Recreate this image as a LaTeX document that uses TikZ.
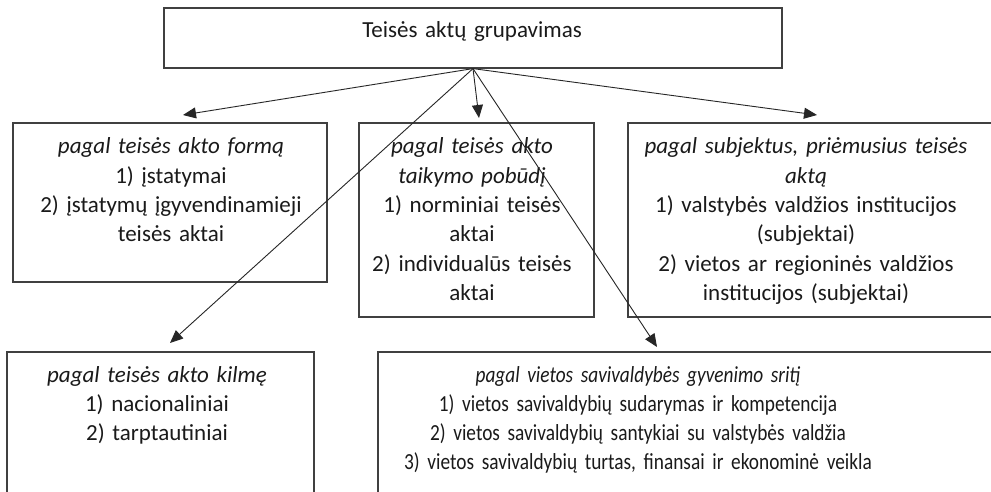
\documentclass[tikz,border=0pt]{standalone}
\usepackage{fontspec}
\setmainfont{Carlito}
\newfontfamily\narrowfont[FakeStretch=0.84]{Carlito}
\usepackage{xcolor}
\definecolor{edge}{HTML}{404040}
\definecolor{ink}{HTML}{1A1A1A}
\usetikzlibrary{arrows.meta,positioning}
\tikzset{
  frame/.style = {rectangle, draw=edge, line width=1.2pt, inner sep=0pt},
  txt/.style   = {anchor=base, align=center, text=ink, inner sep=0pt,
                  text width=600pt, font=\fontsize{23}{29.3}\selectfont},
  arr/.style   = {-{Triangle[length=13pt,width=11pt]}, line width=0.9pt, draw=black!85}
}

\begin{document}
\begin{tikzpicture}[x=1pt,y=-1pt]
  \clip (0,0) rectangle (991,492);
  \fill[white] (0,0) rectangle (991,492);
  % boxes
  \node[frame, minimum width=618pt, minimum height=60pt]  (grp)    at (473,38)    {};
  \node[frame, minimum width=314pt, minimum height=159pt] (forma)  at (170,202.5) {};
  \node[frame, minimum width=235pt, minimum height=194pt] (pobud)  at (476.5,220) {};
  \node[frame, minimum width=372pt, minimum height=194pt] (subj)   at (814,220)   {};
  \node[frame, minimum width=307pt, minimum height=158pt] (kilme)  at (160.5,431) {};
  \node[frame, minimum width=622pt, minimum height=158pt] (sritis) at (689,431)   {};
  % texts
  \node[txt] (grpt) at (472,38) {Teisės aktų grupavimas};
  \node[txt] (format) at (171,154) {\textit{pagal teisės akto formą}\\1) įstatymai\\2) įstatymų įgyvendinamieji\\teisės aktai};
  \node[txt] (pobudt) at (472,154) {\textit{pagal teisės akto}\\\textit{taikymo pobūdį}\\1) norminiai teisės\\aktai\\2) individualūs teisės\\aktai};
  \node[txt] (subjt) at (806,154) {\textit{pagal subjektus, priėmusius teisės}\\\textit{aktą}\\1) valstybės valdžios institucijos\\(subjektai)\\2) vietos ar regioninės valdžios\\institucijos (subjektai)};
  \node[txt] (kilmet) at (157,382) {\textit{pagal teisės akto kilmę}\\1) nacionaliniai\\2) tarptautiniai};
  \node[txt, font=\narrowfont\fontsize{23}{29.3}\selectfont] (sritist) at (638,382) {\textit{pagal vietos savivaldybės gyvenimo sritį}\\1) vietos savivaldybių sudarymas ir kompetencija\\2) vietos savivaldybių santykiai su valstybės valdžia\\3) vietos savivaldybių turtas, finansai ir ekonominė veikla};
  % arrow tips
  \coordinate (e1) at (183,115);
  \coordinate (e2) at (479,118);
  \coordinate (e3) at (817,115);
  \coordinate (e4) at (170,343);
  \coordinate (e5) at (657,347);
  \foreach \t in {e1,e2,e3,e4,e5}
    \draw[arr] (grp.south) -- (\t);
\end{tikzpicture}
\end{document}
